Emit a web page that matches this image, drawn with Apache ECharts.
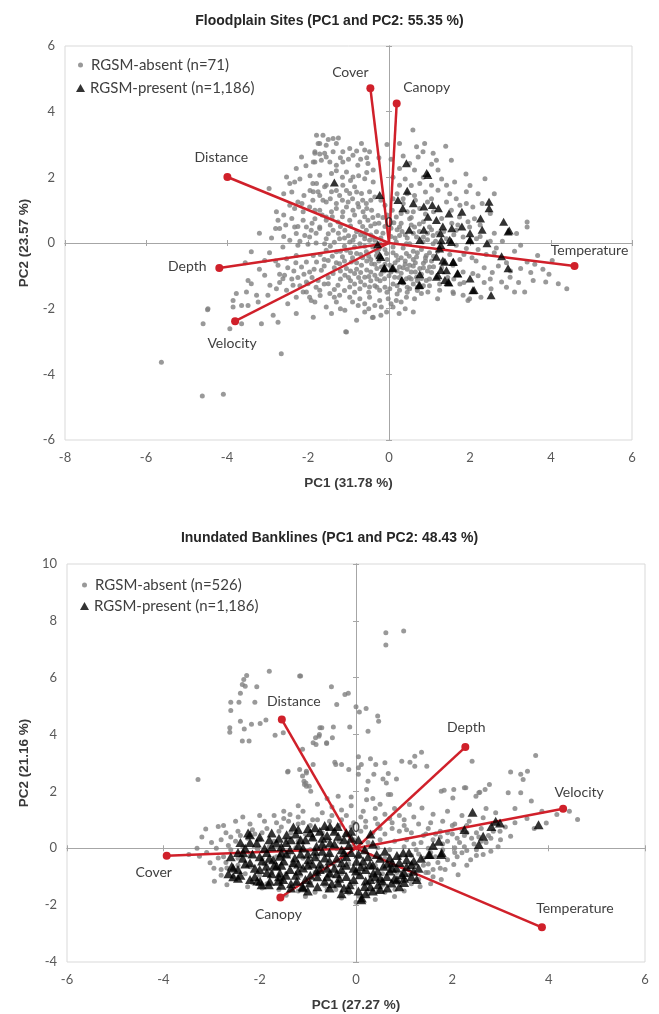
<!DOCTYPE html>
<html><head><meta charset="utf-8">
<script src="https://cdn.jsdelivr.net/npm/echarts@6/dist/echarts.min.js"></script>
<style>html,body{margin:0;padding:0;background:#fff}#c{width:659px;height:1014px}</style>
</head><body><div id="c"></div>
<script>
// ---------- text ----------
const chartTitles = ['Floodplain Sites (PC1 and PC2: 55.35 %)', 'Inundated Banklines (PC1 and PC2: 48.43 %)'];
const xAxisNames = ['PC1 (31.78 %)', 'PC1 (27.27 %)'];
const yAxisNames = ['PC2 (23.57 %)', 'PC2 (21.16 %)'];
const topLegendNames = ['RGSM-absent (n=71)', 'RGSM-present (n=1,186)'];
const botLegendNames = ['RGSM-absent (n=526)', 'RGSM-present (n=1,186)'];

// ---------- tick labels ----------
const topXTicks = [-8, -6, -4, -2, 0, 2, 4, 6];
const topYTicks = [-6, -4, -2, 0, 2, 4, 6];
const botXTicks = [-6, -4, -2, 0, 2, 4, 6];
const botYTicks = [-4, -2, 0, 2, 4, 6, 8, 10];

// ---------- loading vectors ----------
const topVectorNames = ['Cover', 'Canopy', 'Distance', 'Depth', 'Velocity', 'Temperature'];
const topVectorX = [-0.46, 0.19, -3.99, -4.19, -3.80, 4.58];
const topVectorY = [4.71, 4.25, 2.01, -0.76, -2.38, -0.70];
const botVectorNames = ['Distance', 'Depth', 'Velocity', 'Cover', 'Canopy', 'Temperature'];
const botVectorX = [-1.54, 2.27, 4.30, -3.93, -1.57, 3.86];
const botVectorY = [4.53, 3.56, 1.39, -0.26, -1.73, -2.78];

// ---------- site scores: Floodplain ----------
const topAbsent = [
[-2.96,1.66],[-2.78,0.95],[-2.74,0.69],[-2.80,0.44],[-2.70,0.44],[-2.62,-0.12],[-2.45,1.81],[-2.33,1.86],[-2.29,2.27],[-2.53,2.01],[-2.16,2.62],[-1.83,2.78],[-1.71,3.03],[-1.63,3.28],[-1.79,3.28],[-1.55,2.98],[-1.83,2.47],[-1.67,2.52],[-1.55,2.62],[-1.88,1.81],[-1.75,1.56],[-1.55,1.76],[-1.88,1.30],[-2.25,1.25],[-2.33,1.05],[-2.12,0.95],[-1.83,1.00],[-1.63,1.30],[-2.12,0.69],[-2.33,0.49],[-2.29,0.29],[-2.08,0.23],[-1.92,0.39],[-1.71,0.49],[-1.55,0.79],[-2.45,0.08],[-2.25,-0.07],[-2.00,-0.04],[-1.59,-0.02],
[-1.38,3.18],[-1.75,3.03],[-1.30,3.03],[-1.83,2.73],[-1.71,2.71],[-1.59,2.73],[-1.38,2.78],[-1.14,2.78],[-0.97,2.88],[-0.89,2.67],[-0.68,3.03],[-0.60,2.83],[-0.48,2.78],[-1.14,2.47],[-1.46,2.47],[-1.87,2.47],[-1.30,2.37],[-0.77,2.37],[-0.52,2.42],[-0.39,2.22],[-1.42,2.12],[-1.71,2.06],[-1.05,2.16],[-0.89,2.01],[-0.60,1.96],[-0.39,1.86],[-1.79,1.81],[-1.59,1.71],[-1.14,1.76],[-0.85,1.71],[-1.87,1.56],[-1.71,1.45],[-1.42,1.56],[-1.22,1.45],[-0.97,1.51],[-0.68,1.51],[-0.48,1.56],[-0.35,1.40],[-1.55,1.25],[-1.30,1.20],[-1.01,1.25],[-0.77,1.20],[-0.56,1.20],[-1.96,1.10],[-1.71,1.00],[-1.42,0.95],[-1.14,0.95],[-0.89,1.00],[-0.64,0.95],[-0.43,1.00],[-0.27,0.84],[-1.83,0.74],[-1.55,0.69],[-1.26,0.64],[-0.97,0.69],[-0.72,0.64],[-0.52,0.69],[-0.35,0.59],[-2.04,0.49],[-1.71,0.44],[-1.38,0.39],[-1.09,0.39],[-0.80,0.34],[-0.56,0.39],[-0.31,0.34],[-1.96,0.18],[-1.55,0.13],[-1.22,0.13],[-0.89,0.08],[-0.60,0.13],[-0.35,0.08],
[0.59,3.44],[0.26,3.03],[0.68,2.93],[0.88,3.03],[1.09,2.73],[0.84,2.78],[0.72,2.62],[1.17,2.52],[1.54,2.52],[0.51,2.42],[0.26,2.27],[0.63,2.22],[1.21,2.22],[1.62,1.86],[1.42,1.76],[1.05,1.76],[0.76,1.81],[0.26,1.76],[1.21,1.61],[0.63,1.45],[1.91,1.56],[1.66,1.35],[1.42,1.25],[1.91,1.20],[2.07,1.10],[0.35,1.20],[0.76,1.05],[1.54,1.00],[0.18,0.79],[0.51,0.74],[1.74,0.79],[2.11,0.74],[0.26,0.49],[0.63,0.49],[1.00,0.49],[1.66,0.39],[1.99,0.49],[0.26,0.23],[0.68,0.18],[1.09,0.23],[1.42,0.13],[1.83,0.18],[2.16,0.13],[0.43,-0.02],
[2.37,1.96],[3.41,0.64],[3.41,0.49],[3.15,0.29],[3.25,-0.07],[3.56,-1.14],[3.87,-1.19],[4.18,-1.24],[4.39,-1.39],[3.35,-1.49],[3.10,-1.49],[3.25,-0.78],[2.99,-1.04],[2.78,-1.19],[2.52,-1.39],[2.27,-1.65],[1.95,-1.75],[1.59,-1.54],[3.41,-0.58],[3.67,-0.38],[4.03,-0.53],
[-1.96,-1.65],[-1.83,-1.80],[-2.04,-1.49],[-1.55,-1.95],[-1.42,-2.15],[-1.87,-2.26],[-1.09,-2.05],[-0.76,-1.90],[-0.39,-2.26],[-0.19,-1.95],[-0.06,-2.10],[0.10,-1.95],[-1.05,-2.71],[-1.71,-1.44],[-1.46,-1.54],[-1.22,-1.59],[-0.97,-1.65],[-0.72,-1.70],[-0.48,-1.65],[-0.23,-1.75],[-0.02,-1.70],[0.18,-1.75],[0.43,-1.65],[0.63,-1.70],[0.80,-1.54],[-2.04,-1.19],[-1.75,-1.14],[-1.50,-1.24],[-1.26,-1.29],[-0.97,-1.34],[-0.72,-1.39],[-0.48,-1.34],[-0.23,-1.44],[0.02,-1.39],[0.26,-1.44],[0.51,-1.39],[0.96,-1.49],[1.25,-1.44],[1.58,-1.49],[1.83,-1.59],[1.99,-1.70],[-1.96,-0.88],[-1.67,-0.83],[-1.38,-0.93],[-1.09,-0.98],[-0.85,-0.93],[-0.60,-1.04],[-0.35,-0.98],[-0.11,-1.09],[0.14,-1.04],[0.43,-1.09],[0.68,-1.04],[0.92,-1.14],[-1.79,-0.58],[-1.50,-0.53],[-1.22,-0.63],[-0.93,-0.58],[-0.68,-0.68],[-0.43,-0.63],[-0.19,-0.73],[0.02,-0.68],[0.26,-0.73],[0.51,-0.68],[0.76,-0.78],[1.00,-0.73],[1.58,-0.68],[1.83,-0.88],[2.07,-0.93],[-1.55,-0.22],[-1.30,-0.27],[-1.05,-0.22],[-0.80,-0.32],[-0.56,-0.27],[-0.31,-0.38],[-0.06,-0.32],[0.18,-0.38],[0.43,-0.32],[0.68,-0.43],[0.92,-0.38],[-0.97,0.03],[-0.72,-0.02],[-0.48,0.08],[-0.23,-0.02],[0.18,0.03],[0.51,-0.02],[0.84,0.03],[1.09,-0.02],[1.66,-0.07],[1.91,-0.17],
[-3.40,-0.27],[-3.07,-0.53],[-2.74,-0.68],[-2.53,-0.48],[-2.29,-0.38],[-2.16,-0.73],[-2.04,-0.58],[-1.87,-0.38],[-3.48,-1.14],[-3.40,-1.24],[-3.77,-1.54],[-3.52,-1.49],[-3.85,-1.75],[-3.64,-1.90],[-3.48,-1.90],[-3.85,-1.95],[-4.47,-2.00],[-4.59,-2.46],[-3.93,-2.61],[-3.64,-2.46],[-3.15,-2.46],[-2.86,-2.20],[-2.74,-2.41],[-2.29,-2.15],[-2.62,-1.09],[-2.78,-1.39],[-2.99,-1.59],[-3.23,-1.80],[-2.53,-1.44],[-2.37,-1.29],[-2.12,-1.49],[-2.00,-1.24],[-2.29,-1.65],[-1.92,-1.75],[-2.66,-3.37],[-5.62,-3.63],[-2.58,-0.98],[-2.94,-1.29],[-3.07,-0.98],[-3.27,-1.59],
[-4.61,-4.66],[-4.09,-4.61],[-1.07,-2.70],[-0.41,-2.27],[-4.48,-2.03],
[-0.10,0.50],[0.05,0.20],[-0.20,0.15],[0.10,-0.12],[-0.05,-0.50],[0.12,0.62],[-0.15,0.78],[0.08,1.00],[0.32,0.35],[-0.25,-0.18],[0.22,-0.52],[-0.12,-0.85],[0.05,-0.88],[0.30,-0.92],[-0.22,-1.15],[0.10,-1.25],[0.35,-1.22],[0.60,-1.25],[0.85,-1.30],[0.55,-0.88],[0.80,-0.95],[1.05,-0.90],[0.90,-0.55],[0.65,-0.60],[0.40,-0.55],[0.35,-0.15],[0.60,-0.25],[0.80,-0.20],[1.00,-0.30],[1.20,-0.25],[0.95,0.10],[1.20,0.30],[0.85,0.65],[1.30,0.75],[1.55,0.60],[0.45,0.95],[0.10,1.35],[-0.10,1.15],[0.45,1.50],[1.85,-0.35],[2.15,-0.55],[2.35,-0.75],[2.60,-0.30],[2.55,-0.90],[2.35,-1.20],[1.75,-1.25],[1.45,-1.05],[2.25,0.55],[2.60,0.30],[2.80,0.05],[2.90,-0.60],[3.10,-0.25],[1.20,-1.70],[0.40,-2.00],[-0.60,-2.10],[-1.30,-1.80],[-2.50,-1.85],[-2.70,-0.95],[-3.20,-0.80],[-2.95,-0.30],[-2.60,0.20],[-2.90,0.15],[-0.25,2.60],[0.05,2.55],[-0.05,3.00],[1.40,2.95],[1.90,2.10],[2.20,1.50],[2.50,0.90],[-2.60,1.50],[-3.20,0.30],[-3.55,-0.60],[-0.80,-2.35],[0.60,-2.10],
[-2.05,2.35],[-1.95,2.05],[-2.20,1.95],[-2.40,1.55],[-2.10,1.45],[-1.95,1.60],[-2.15,1.20],[-2.45,1.15],[-2.60,0.85],[-2.40,0.75],[-2.25,0.50],[-2.55,0.55],[-1.25,3.20],[-1.50,3.15],[-1.20,2.60],[-1.00,2.55],[-0.80,2.80],[-0.70,2.55],[-0.55,2.60],[-1.30,2.20],[-1.15,2.00],[-0.95,1.90],[-0.75,2.05],[-0.55,2.15],[-1.30,1.60],[-1.05,1.60],[-0.80,1.55],[-1.45,1.35],[-1.15,1.30],[-0.90,1.35],[-0.65,1.30],[-0.45,1.30],[-1.30,1.05],[-1.05,1.10],[-0.75,1.10],[-0.55,1.05],[-1.65,0.85],[-1.40,0.80],[-1.15,0.80],[-0.85,0.85],[-0.60,0.80],[-0.40,0.78],[-1.90,0.60],[-1.45,0.55],[-1.20,0.50],[-0.95,0.52],[-0.65,0.50],[-0.45,0.52],[-1.80,0.30],[-1.50,0.28],[-1.25,0.30],[-1.00,0.22],[-0.70,0.25],[-0.45,0.24],[-2.20,0.05],[-1.80,0.00],[-1.35,0.02],[-1.10,-0.10],[-0.85,-0.12],[-0.60,-0.10],[-0.40,-0.12],
[-1.70,-0.35],[-1.40,-0.40],[-1.15,-0.42],[-0.90,-0.45],[-0.65,-0.45],[-0.45,-0.50],[-0.25,-0.55],[-1.60,-0.70],[-1.35,-0.75],[-1.05,-0.78],[-0.80,-0.80],[-0.55,-0.82],[-0.30,-0.78],[-1.50,-1.05],[-1.20,-1.10],[-0.95,-1.15],[-0.70,-1.18],[-0.45,-1.15],[-0.30,-1.35],[-0.05,-1.50],[0.20,-1.55],[0.45,-1.50],[0.70,-1.45],[-0.50,-1.50],[-0.85,-1.50],[-1.10,-1.45],[-1.35,-1.42],[-1.60,-1.25],[-1.80,-1.35],[-2.25,-1.05],[-2.35,-0.85],[-2.10,-0.95],[-1.90,-1.05],[-2.30,-0.60],[-2.50,-0.75],[-2.80,-0.55],[-0.90,-1.80],[-0.60,-1.85],[-0.35,-1.90],[0.05,-1.85],[0.30,-1.80],[-1.20,-2.00],[-0.50,-2.00],[-0.20,-2.20],[0.25,-2.15],
[0.20,0.40],[0.45,0.15],[0.55,0.55],[0.75,0.35],[0.95,0.30],[1.15,0.05],[1.35,0.35],[1.60,0.25],[1.70,0.55],[1.95,0.65],[2.25,0.20],[2.50,0.05],[2.65,-0.15],[2.40,-0.35],[2.20,-0.20],[2.05,-0.45],[1.75,-0.50],[1.50,-0.35],[1.30,-0.75],[1.05,-0.55],[0.85,-0.75],[0.60,-0.50],[0.35,-0.75],[0.50,-1.05],[0.70,-1.15],[1.00,-1.10],[1.25,-1.25],[1.60,-1.10],[1.85,-1.20],[2.20,-1.00],[2.50,-1.10],[2.70,-0.70],[3.00,-0.85],[3.20,-1.20],[2.90,-1.35],[3.50,-0.90],[3.80,-0.80],[3.95,-0.95],[3.60,-0.65],[1.05,1.35],[0.90,1.55],[0.55,1.75],[0.40,1.95],[0.85,2.00],[1.30,1.95],[1.05,2.40],[0.35,2.65],[0.10,2.00],[0.20,1.50],[1.50,1.50],[1.75,1.15],[2.30,1.20],[2.60,1.50],[2.00,1.75],
[-1.45,-0.10],[-1.20,-0.25],[-0.95,-0.30],[-0.70,-0.35],[-0.50,-0.40],[-0.30,-0.25],[-0.10,-0.20],[0.10,-0.30],[0.30,-0.45],[0.50,-0.40],[0.70,-0.30],[0.90,-0.45],[1.10,-0.40],[-1.30,-0.60],[-1.10,-0.55],[-0.80,-0.60],[-0.55,-0.55],[-0.35,-0.65],[-0.10,-0.65],[0.15,-0.60],[0.40,-0.65],[0.60,-0.70],[0.85,-0.62],[1.10,-0.72],[-1.20,-0.85],[-0.95,-0.85],[-0.70,-0.90],[-0.45,-0.88],[-0.20,-0.95],[0.20,-0.85],[0.45,-0.80],[0.65,-0.88],[0.95,-0.85],[-1.00,-1.05],[-0.75,-1.05],[-0.50,-1.02],[-0.30,-1.10],[0.00,-1.00],[0.25,-1.05],[0.55,-1.10],[0.80,-1.08],[-0.85,-1.25],[-0.60,-1.28],[-0.35,-1.30],[-0.10,-1.35],[0.20,-1.30],[0.45,-1.35],[0.70,-1.35],[1.00,-1.30],[-1.10,0.15],[-0.85,0.20],[-0.60,0.22],[-0.40,0.18],[-0.15,0.30],[0.15,0.15],[0.40,0.25],[0.60,0.30],[0.85,0.18],[1.05,0.40],[-0.25,0.60],[0.05,0.45],[0.30,0.60],[0.55,0.78],[0.75,0.58],[-0.05,0.85],[0.30,0.90],[0.60,0.95],[0.90,0.88],[1.10,0.95],[-0.20,1.30],[0.35,1.35],[0.65,1.30],[0.95,1.25],[-1.60,-0.50],[-1.85,-0.80],[-2.20,-1.30],[-1.70,-1.60],[-1.35,-1.65],[-2.40,-1.10],[-2.70,-1.20]
];
const topPresent = [
[0.43,2.43],[0.96,2.07],[0.93,2.13],[-1.35,1.84],[-0.23,1.46],[0.45,1.59],[0.22,1.31],[0.34,1.06],[0.60,1.21],[0.86,1.11],[1.07,1.16],[1.22,1.06],[0.96,0.80],[1.17,0.70],[1.48,0.90],[1.80,0.95],[2.47,1.26],[2.47,1.06],[2.26,0.75],[2.83,0.65],[2.94,0.35],[2.97,0.38],[1.33,0.50],[1.55,0.45],[1.80,0.50],[2.00,0.30],[2.30,0.40],[1.27,0.30],[0.86,0.40],[0.50,0.40],[-0.28,-0.04],[-0.23,-0.37],[0.76,0.09],[1.28,-0.06],[1.50,0.10],[2.00,0.10],[2.42,-0.01],[2.78,-0.40],[2.94,-0.77],[1.17,-0.42],[1.38,-0.57],[1.28,-0.82],[1.59,-0.57],[1.69,-0.92],[1.17,-1.03],[1.38,-1.13],[1.48,-1.20],[0.76,-1.28],[0.32,-1.13],[-0.12,-0.77],[0.08,-0.77],[2.10,-1.43],[2.52,-1.59],[0.76,-0.95],[2.00,-1.08],[-0.20,-0.43],[-0.11,-0.75],[0.10,-0.75],[0.31,-1.14],[0.74,-1.29],[1.21,-0.98],[1.33,-0.53],[1.42,-0.83],[1.46,-1.19],[1.58,-0.58],[1.70,-0.93],[2.07,-1.44],[1.99,0.08],[1.29,0.08],[1.54,0.03],[1.25,-0.17]
];

// ---------- site scores: Banklines ----------
const botAbsent = [
[-2.27,6.08],[-2.33,5.94],[-2.36,5.76],[-2.30,5.70],[-2.06,5.68],[-2.40,5.45],[-1.80,6.23],[-1.15,6.06],[-2.60,5.14],[-2.43,5.14],[-2.10,5.14],[-2.60,4.85],[-2.40,4.47],[-2.62,4.24],[-2.62,4.08],[-2.32,4.20],[-2.17,4.36],[-1.99,4.39],[-1.87,4.51],[-2.36,3.77],[-2.22,3.77],[-1.68,3.98],[-1.51,4.06],[-0.75,4.24],[-0.84,3.89],[-0.77,3.94],[-0.89,3.71],[-0.61,3.71],[-1.11,3.48],[-3.28,2.42],[-1.41,2.71],[-1.03,2.71],[-1.08,2.36],[-1.03,2.18],[-1.37,1.19],[-1.10,1.30],[-0.89,2.95],
[0.62,7.58],[0.99,7.64],[0.62,7.15],[-1.17,6.06],[-0.51,5.68],[-0.23,5.41],[-0.16,5.45],[-0.40,5.06],[0.00,4.98],[0.07,4.79],[0.21,4.92],[0.45,4.65],[0.47,4.47],[0.25,4.12],[-0.13,4.27],[-0.47,4.27],[-0.71,4.24],[-0.76,4.00],[-0.49,3.89],[-0.83,3.65],[-0.61,3.69],[-0.44,3.03],[-0.30,2.95],[0.05,3.22],[0.30,3.15],[0.41,2.95],[0.60,3.01],[0.95,3.06],[1.12,3.03],[1.22,3.24],[1.36,3.38],[1.22,2.89],[1.47,2.89],[0.05,2.83],[0.05,2.60],[0.25,2.36],[0.56,2.44],[0.67,2.63],[0.84,2.44],[-1.17,2.77],[-1.03,2.65],[-1.04,2.30],[-0.97,2.18],[-0.37,1.83],[0.22,2.07],[0.22,1.71],[0.67,1.89],[1.83,2.04],[2.01,1.77],[2.28,2.13],[2.41,3.06],[2.57,1.97],[2.68,2.07],[2.49,1.83],
[-3.12,0.68],[-2.86,0.77],[-1.42,2.68],[-1.11,2.54],[-1.07,2.24],[-0.94,2.01],[3.73,3.26],[3.21,2.68],[3.42,2.60],[3.56,2.71],[3.47,2.42],[2.77,2.24],[2.55,1.95],[2.25,2.13],[3.16,1.95],[3.42,1.95],[3.64,1.66],[3.86,1.30],[4.17,1.19],[4.43,1.30],[4.60,1.01],[3.95,0.89],[3.21,0.42],[2.99,0.60],[2.64,1.07],[2.03,2.07],[1.77,2.01],[1.37,1.42],[1.11,1.54],[0.72,1.89],[0.63,2.30],[0.37,2.60],[0.11,2.95],[-0.15,2.77],[-0.42,2.95],
[-2.94,-1.16],[-2.68,-1.28],[-2.55,-0.99],[-2.68,-0.69],[-3.03,-0.51],[-2.86,-0.34],[-3.25,-0.28],[-3.47,-0.22],[-0.42,-1.45],[-0.15,-1.57],[0.06,-1.69],[0.46,-1.51],[0.81,-1.45],[1.33,-1.34],[1.77,-1.10],[2.12,-0.93],[2.03,-0.57],[2.38,-0.40],[2.64,-0.22],[2.20,-0.16],
[-0.50,1.45],[-0.30,1.35],[-0.10,1.50],[0.15,1.30],[0.40,1.40],[-0.70,1.25],[0.60,1.20],[0.90,1.15],[1.20,1.10],[1.60,1.20],[1.90,1.30],[2.20,1.15],[2.35,0.95],[-0.90,1.00],
[-2.20,0.85],[-1.90,0.95],[-1.65,0.90],[-1.40,0.95],[-1.10,0.90],[-0.80,1.00],[-0.55,0.95],[-0.30,1.00],[-0.05,0.90],[0.20,0.95],[0.45,0.85],[0.75,0.90],[1.00,0.80],[1.30,0.85],[1.55,0.90],[1.80,0.95],[2.05,0.85],[2.30,0.80],[2.60,0.70],
[-2.70,0.55],[-2.45,0.60],[-2.15,0.65],[-1.95,0.55],[-1.60,0.60],[-1.35,0.55],[-1.05,0.50],[-0.70,0.55],[-0.45,0.60],[-0.20,0.50],[0.10,0.60],[0.35,0.55],[0.60,0.50],[0.90,0.60],[1.15,0.55],[1.45,0.50],[1.75,0.60],[2.00,0.50],[2.25,0.45],[2.50,0.55],[2.75,0.45],[3.00,0.30],
[-2.80,0.30],[-2.50,0.25],[-2.25,0.35],[-2.00,0.30],[-1.70,0.25],[-1.45,0.30],[-1.20,0.25],[-0.90,0.35],[-0.60,0.30],[-0.35,0.25],[-0.05,0.30],[0.25,0.20],[0.50,0.30],[0.80,0.25],[1.05,0.30],[1.35,0.20],[1.60,0.30],[1.90,0.25],[2.15,0.20],[2.45,0.15],[2.70,0.20],
[-2.90,0.00],[-2.60,-0.05],[-2.35,0.05],[-2.05,-0.02],[-1.80,0.05],[-1.55,-0.05],[-1.25,0.02],[-0.95,-0.05],[-0.65,0.05],[-0.40,-0.02],[-0.10,0.05],[0.20,-0.05],[0.45,0.02],[0.70,-0.05],[1.00,0.05],[1.25,-0.05],[1.50,0.00],[1.80,-0.05],[2.05,0.02],[2.30,-0.08],[2.50,-0.05],
[-2.75,-0.30],[-2.45,-0.35],[-2.20,-0.25],[-1.95,-0.35],[-1.65,-0.30],[-1.40,-0.25],[-1.10,-0.35],[-0.80,-0.30],[-0.55,-0.25],[-0.25,-0.35],[0.05,-0.30],[0.30,-0.25],[0.60,-0.35],[0.90,-0.30],[1.15,-0.25],[1.40,-0.35],[1.65,-0.30],[1.90,-0.40],[2.10,-0.30],
[-2.45,-0.60],[-2.20,-0.65],[-1.90,-0.55],[-1.60,-0.65],[-1.30,-0.60],[-1.00,-0.55],[-0.70,-0.65],[-0.45,-0.60],[-0.15,-0.55],[0.15,-0.65],[0.40,-0.60],[0.70,-0.55],[0.95,-0.65],[1.25,-0.60],[1.50,-0.55],[1.75,-0.70],
[-2.30,-0.90],[-2.00,-0.95],[-1.75,-0.85],[-1.45,-0.90],[-1.15,-0.95],[-0.85,-0.85],[-0.55,-0.95],[-0.30,-0.90],[0.00,-0.85],[0.30,-0.95],[0.55,-0.90],[0.85,-0.85],[1.10,-0.95],[1.45,-0.85],[1.60,-1.00],
[-2.15,-1.20],[-1.85,-1.25],[-1.55,-1.15],[-1.25,-1.25],[-0.95,-1.20],[-0.65,-1.30],[-0.35,-1.20],[-0.05,-1.25],[0.25,-1.20],[0.55,-1.30],[0.85,-1.20],[1.15,-1.25],
[-1.60,-1.45],[-1.20,-1.50],[-0.85,-1.55],[-0.60,-1.45],[0.25,-1.60],[0.60,-1.55],[1.00,-1.50],[-0.30,-1.75],[0.00,-1.90],
[-3.20,0.40],[-3.00,0.20],[-3.30,0.00],[-3.10,-0.15],[-2.95,-0.70],[-2.80,-0.95],[-2.75,0.80],[-2.50,0.95],[-2.35,1.10],[-2.00,1.15],[-1.70,1.15],[-1.50,1.30],[-1.20,1.50],[-0.80,1.55],[-0.60,1.75],[-0.10,1.80],[0.35,1.75],[0.50,1.55],[0.80,1.40],[1.50,0.70],[1.75,0.40],[2.00,0.80],[2.20,0.65],[2.40,0.35],[2.60,0.25],[2.85,0.60],[3.10,0.75],[3.30,0.90],[3.55,1.05],[3.70,0.70],[3.30,1.40],[2.90,1.25],[2.70,1.40],[1.50,-0.85],[1.85,-0.75],[1.70,-0.50],[2.30,-0.60],[2.50,-0.25],[2.80,-0.10],[2.95,0.05],[1.30,-1.10],[1.55,-1.25],[-1.95,-1.40],[-2.25,-1.35],[-1.45,-1.65],[-1.05,-1.70],[-0.65,-1.70],[0.40,-1.80],[0.80,-1.70],
[1.20,0.15],[1.40,0.45],[1.65,0.50],[1.90,0.55],[2.10,0.35],[2.30,0.55],[2.55,0.40],[2.80,0.35],[1.30,-0.20],[1.55,-0.15],[1.80,0.15],[2.05,-0.15],[2.25,0.05],[1.40,-0.60],[1.60,-0.75],[-2.60,0.40],[-2.40,0.45],[-2.10,0.50],[-1.85,0.70],[-1.55,0.75],[-1.20,0.85],[-0.95,0.80],[-0.60,0.70],[-0.35,0.80],[-0.10,0.75],[0.20,0.75],[0.50,0.70],[0.75,0.70],[1.05,0.65],[-0.50,1.15],[-0.20,1.15],[0.10,1.10],[0.40,1.05],[0.70,1.05],[1.00,1.00],[-1.20,1.10],[-1.50,1.05],[-2.70,-0.50],[-2.80,-0.75],[-2.65,0.10]
];
const botPresent = [
[2.42,1.27],[2.25,0.66],[2.90,0.95],[2.81,0.77],[2.99,0.89],[3.79,0.83],[2.64,0.42],[2.55,0.13],[1.72,0.25],[1.51,-0.22],[1.77,-0.22],[0.11,-1.81],
[-2.24,0.54],[-1.75,0.54],[-1.44,0.48],[-2.34,-0.16],[-2.45,-0.75],[-2.20,-0.51],[-2.10,-0.99],[-1.86,-0.63],[-1.72,-0.40],[-1.55,-0.16],[-2.20,-1.10],[-1.96,-1.28],[-1.79,-1.16],[-1.58,-0.87],[-2.06,0.19],[-1.65,0.19],[-2.58,-0.63],
[-1.20,0.66],[-0.85,0.72],[-0.54,0.77],[-0.75,0.60],[-0.37,0.42],[-0.54,0.19],[-0.30,-0.05],[0.18,-0.05],[0.43,-0.22],[0.70,-0.34],[0.98,-0.16],[1.05,-0.40],[1.15,-0.57],[1.53,-0.22],[1.78,-0.16],[-1.37,-0.05],[-1.10,0.01],[-0.82,0.07],[-1.58,-0.28],[-1.27,-0.34],[-0.99,-0.40],[-0.65,-0.34],[-0.30,-0.51],[0.01,-0.46],[0.29,-0.57],[0.57,-0.63],[0.84,-0.69],[-1.65,-0.63],[-1.37,-0.75],[-1.10,-0.69],[-0.82,-0.81],[-0.54,-0.87],[-0.20,-0.99],[0.08,-0.93],[0.36,-0.87],[0.64,-0.99],[0.95,-0.93],[1.19,-0.81],[-1.51,-1.10],[-1.23,-1.16],[-0.96,-1.22],[-0.65,-1.16],[-0.37,-1.22],[-0.13,-1.28],[0.18,-1.34],[0.46,-1.28],[0.74,-1.22],[-1.10,-1.39],[0.12,-1.75],[0.50,-1.45],[1.26,-1.10],
[-2.20,0.48],[-0.38,0.77],[-2.55,-0.69],[-1.99,-1.16],[-1.81,-1.28],[-1.11,-1.34],[-1.62,-1.16],
[-2.00,-0.30],[-1.90,0.00],[-1.45,0.20],[-1.30,-0.50],[-1.00,-0.20],[-0.70,-0.10],[-0.45,-0.70],[-0.20,-0.30],[0.20,-0.75],[0.50,-1.05],[0.75,-0.50],[1.00,-1.05],[-0.90,0.40],[-0.60,0.45],[-1.15,0.30],[-0.25,0.30],[-0.05,-0.70],[0.30,-1.10],[-0.80,-1.00],[-1.45,-0.95],[-1.75,-0.90],[-2.35,-0.35],[-2.65,-0.90],[-1.00,-0.60],[-0.40,-0.35],[0.85,-1.10],[1.10,-0.15],[0.60,-0.10],[-0.10,0.60],[-1.60,0.35],[-2.40,0.20],[-1.30,0.75],[-0.15,-1.45],[0.35,-1.50],[0.90,-1.35],[-0.55,-1.40],[-1.35,-1.25],[-2.45,-1.05],[-2.00,-0.75],[-0.75,-0.55],
[-2.30,0.00],[-2.15,-0.20],[-1.95,-0.45],[-2.30,-0.55],[-2.40,-0.95],[-2.05,-1.15],[-1.85,-0.85],[-1.70,-0.60],[-1.50,-0.45],[-1.85,-0.15],[-1.75,0.05],[-1.55,0.05],[-1.35,0.30],[-1.20,0.10],[-1.05,0.30],[-0.95,0.55],[-0.70,0.35],[-0.45,0.60],[-0.20,0.55],[-0.45,0.15],[-0.15,0.10],[0.05,0.30],[0.35,0.15],[0.50,-0.35],[0.25,-0.30],[0.05,-0.20],[-0.10,-0.15],[-0.55,-0.15],[-0.85,-0.10],[-1.15,-0.20],[-1.45,-0.20],[-1.20,-0.55],[-0.90,-0.55],[-0.60,-0.70],[-0.30,-0.75],[0.10,-0.65],[0.45,-0.80],[0.70,-0.80],[0.90,-0.50],[1.20,-0.45],[1.30,-0.70],[1.05,-0.65],[0.80,-1.05],[0.55,-1.15],[0.20,-1.15],[-0.05,-1.10],[-0.35,-1.05],[-0.60,-1.00],[-0.95,-0.95],[-1.25,-0.95],[-1.55,-1.30],[-1.35,-1.40],[-0.80,-1.35],[-0.50,-1.25],[-0.25,-1.40],[0.05,-1.50],[0.30,-1.35],[0.65,-1.40],[1.00,-1.20],[1.15,-1.00],[-2.60,-0.30],[-2.55,-1.00],[-2.00,0.40],[-1.80,0.30],[-1.00,0.70],[-0.65,0.80],[0.30,0.50],[0.85,-0.25],[1.35,-0.35],[1.60,0.10],[-0.25,-0.15],[0.65,-0.55],
[-2.20,0.20],[-2.45,-0.15],[-2.10,-0.70],[-1.60,-1.00],[-1.20,-0.80],[-0.75,-0.75],[-0.40,-0.90],[0.00,-0.80],[0.40,-1.00],[0.75,-0.70],[1.00,-0.85],[-0.55,-0.45],[-0.20,-0.60],[0.15,-0.45],[0.35,-0.60],[-0.85,-0.30],[-1.55,-0.60],[-1.80,-0.35],[-1.05,-1.10],[-0.30,-1.60],[0.20,-1.60],[-1.00,-1.50],[-0.70,0.15],[-1.25,0.50],[-0.10,0.35]
];

// ---------- styling / building ----------
const RED = '#d0202a';
const GRAY = '#808080';
const LABEL_FONT = 'Lato, "Open Sans", sans-serif';
const BOLD_FONT = '"Liberation Sans", Arial, sans-serif';

const labelOffsets = [
  {Cover:[-20,-16], Canopy:[30,-16], Distance:[-6,-20], Depth:[-32,-1], Velocity:[-3,22], Temperature:[15,-15]},
  {Distance:[12,-18], Depth:[1,-20], Velocity:[16,-16], Cover:[-13,17], Canopy:[-2,17], Temperature:[33,-19]}
];

const grids = [
  {left:65, top:46, width:567, height:394, show:true, borderColor:'#d9d9d9', borderWidth:1},
  {left:67, top:564, width:578, height:398, show:true, borderColor:'#d9d9d9', borderWidth:1}
];
const xTickSets = [topXTicks, botXTicks];
const yTickSets = [topYTicks, botYTicks];

const xAxes = [], yAxes = [];
function rng(t){ return {min:t[0], max:t[t.length-1], interval:t[1]-t[0]}; }
[0,1].forEach(g => {
  const xr = rng(xTickSets[g]), yr = rng(yTickSets[g]);
  xAxes.push(Object.assign({type:'value', gridIndex:g, position:'bottom',
    axisLine:{show:false, onZero:false}, axisTick:{show:false}, splitLine:{show:false},
    axisLabel:{color:'#595959', fontFamily:LABEL_FONT, fontSize:13, margin:11},
    name:xAxisNames[g], nameLocation:'middle', nameGap:36,
    nameTextStyle:{fontFamily:BOLD_FONT, fontWeight:'bold', fontSize:13.5, color:'#3a3a3a'}}, xr));
  yAxes.push(Object.assign({type:'value', gridIndex:g, position:'left',
    axisLine:{show:false, onZero:false}, axisTick:{show:false}, splitLine:{show:false},
    axisLabel:{color:'#595959', fontFamily:LABEL_FONT, fontSize:13, margin:10},
    name:yAxisNames[g], nameLocation:'middle', nameGap:34,
    nameTextStyle:{fontFamily:BOLD_FONT, fontWeight:'bold', fontSize:13.5, color:'#3a3a3a'}}, yr));
  [false, true].forEach(inside => {
    xAxes.push(Object.assign({type:'value', gridIndex:g, position:'bottom',
      axisLine:{show:true, onZero:true, lineStyle:{color:'#a6a6a6', width:1}},
      axisTick:{show:true, inside:inside, length:3, lineStyle:{color:'#a6a6a6'}},
      axisLabel:{show:false}, splitLine:{show:false}}, xr));
    yAxes.push(Object.assign({type:'value', gridIndex:g, position:'left',
      axisLine:{show:true, onZero:true, lineStyle:{color:'#a6a6a6', width:1}},
      axisTick:{show:true, inside:inside, length:3, lineStyle:{color:'#a6a6a6'}},
      axisLabel:{show:false}, splitLine:{show:false}}, yr));
  });
});

const series = [];
const absentSets = [topAbsent, botAbsent], presentSets = [topPresent, botPresent];
const legendNameSets = [topLegendNames, botLegendNames];
const vecNames = [topVectorNames, botVectorNames], vecX = [topVectorX, botVectorX], vecY = [topVectorY, botVectorY];

[0,1].forEach(g => {
  const ax = g*3;
  series.push({type:'scatter', name:legendNameSets[g][0], xAxisIndex:ax, yAxisIndex:ax,
    data:absentSets[g], symbol:'circle', symbolSize:5, itemStyle:{color:GRAY}, z:2, silent:true});
  vecNames[g].forEach((n, i) => {
    const off = labelOffsets[g][n];
    series.push({type:'line', xAxisIndex:ax, yAxisIndex:ax, z:3, silent:true,
      lineStyle:{color:RED, width:2.5}, itemStyle:{color:RED}, symbolSize:8, symbol:'circle', showSymbol:true,
      data:[{value:[0,0], symbol:'none'},
            {value:[vecX[g][i], vecY[g][i]], label:{show:true, formatter:n, position:'inside', offset:off,
              color:'#404040', fontFamily:LABEL_FONT, fontSize:14, align:'center', verticalAlign:'middle'}}]});
  });
  series.push({type:'scatter', name:legendNameSets[g][1], xAxisIndex:ax, yAxisIndex:ax,
    data:presentSets[g], symbol:'triangle', symbolSize: g === 0 ? [9,8] : [10,9], itemStyle:{color:'#000'}, z:4, silent:true});
  series.push({type:'scatter', xAxisIndex:ax, yAxisIndex:ax, data:[[0,0]], symbolSize:0, z:5, silent:true,
    label:{show:true, formatter:'0', position:'inside', offset:[0,-20], color:'#222', fontWeight:'bold',
      fontFamily:LABEL_FONT, fontSize:13}});
});

const legendBase = {orient:'vertical', itemGap:0, selectedMode:false,
  textStyle:{color:'#404040', fontFamily:LABEL_FONT, fontSize:15, lineHeight:16}};
const legends = [
  Object.assign({}, legendBase, {data:[topLegendNames[0]], left:73, top:52, itemWidth:5, itemHeight:5,
    textStyle:Object.assign({}, legendBase.textStyle, {padding:[0,0,0,3]})}),
  Object.assign({}, legendBase, {data:[topLegendNames[1]], left:71, top:75, itemWidth:9, itemHeight:8}),
  Object.assign({}, legendBase, {data:[botLegendNames[0]], left:77, top:572, itemWidth:5, itemHeight:5,
    textStyle:Object.assign({}, legendBase.textStyle, {padding:[0,0,0,3]})}),
  Object.assign({}, legendBase, {data:[botLegendNames[1]], left:75, top:593, itemWidth:9, itemHeight:8})
];

const chart = echarts.init(document.getElementById('c'), null, {renderer:'canvas'});
chart.setOption({
  animation:false,
  backgroundColor:'#fff',
  title:[
    {text:chartTitles[0], left:'center', top:9, textStyle:{fontFamily:BOLD_FONT, fontWeight:'bold', fontSize:14, color:'#262626'}},
    {text:chartTitles[1], left:'center', top:526, textStyle:{fontFamily:BOLD_FONT, fontWeight:'bold', fontSize:14, color:'#262626'}}
  ],
  legend:legends,
  grid:grids,
  xAxis:xAxes,
  yAxis:yAxes,
  series:series
});
</script>
</body></html>
